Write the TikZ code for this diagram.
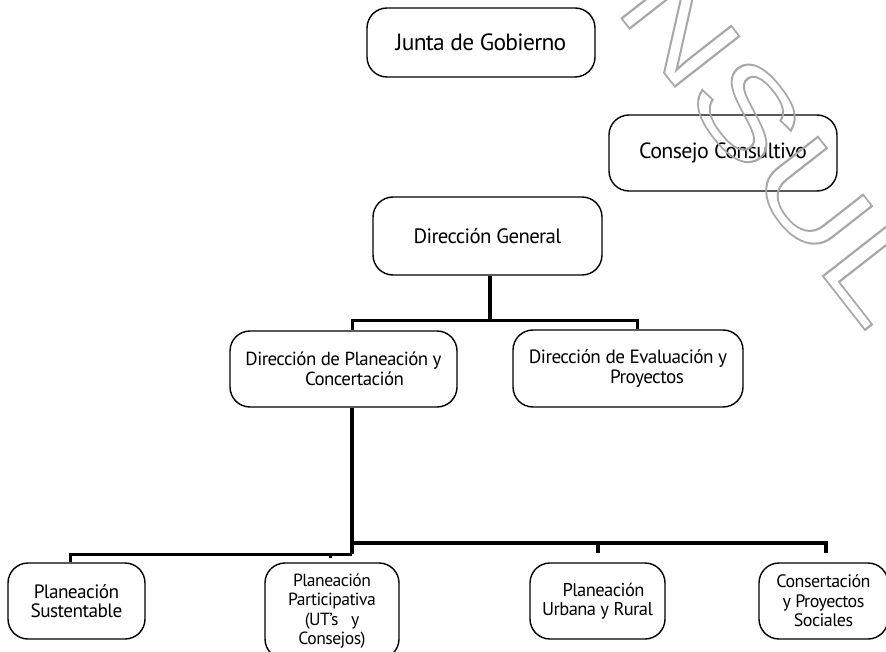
\documentclass[tikz,border=0pt]{standalone}
\usepackage{fontspec}
\setmainfont{PT Sans}[LetterSpace=-3]
\newfontfamily\wmfont{Liberation Sans}
\definecolor{wmgray}{gray}{0.66}
\newcommand{\wmoutline}[1]{\special{pdf:literal direct 1 Tr 1.7 w}#1\special{pdf:literal direct 0 Tr}}
\newcommand{\fs}[1]{\fontsize{#1}{19.5}\selectfont}
\begin{document}
\begin{tikzpicture}[x=1pt,y=-1pt,
  box/.style={draw, line width=1.4pt, rounded corners=20pt, align=center, inner sep=0pt},
  trunk/.style={line width=4pt, line join=miter},
  branch/.style={line width=3pt, line join=miter},
  wm/.style={rotate=-52, inner sep=0pt, text=wmgray, font=\wmfont\fontsize{119}{119}\selectfont}]
\useasboundingbox (0,0) rectangle (886,652);
\begin{scope}
\clip (0,0) rectangle (886,652);
% boxes
\node[box, font=\fs{23.5}, minimum width=228pt, minimum height=69pt] (junta) at (481,42.5) {Junta de Gobierno};
\node[box, font=\fs{22.0}, minimum width=228pt, minimum height=76pt] (consejo) at (723,153) {Consejo Consultivo};
\node[box, font=\fs{20.8}, minimum width=229pt, minimum height=78pt] (dg) at (487.5,236) {Dirección General};
\node[box, font=\fs{18.9}, minimum width=227pt, minimum height=76pt] (dpc) at (343.5,369) {Dirección de Planeación y\\\hspace*{22pt}Concertación};
\node[box, font=\fs{19.2}, minimum width=230pt, minimum height=77pt] (dep) at (628,368.5) {Dirección de Evaluación y\\\hspace*{38pt}Proyectos};
\node[box, font=\fs{19.3}, minimum width=137pt, minimum height=76pt] (sust) at (76.5,601) {Planeación\\Sustentable};
\node[box, font=\fs{17.6}, minimum width=134pt, minimum height=96pt] (part) at (332,611) {Planeación\\Participativa\\(UT’s\ \ \ y\\Consejos)};
\node[box, font=\fs{18.5}, minimum width=135pt, minimum height=76pt] (urb) at (597.5,601) {\hspace*{12pt}Planeación\\Urbana y Rural};
\node[box, font=\fs{18.0}, minimum width=129pt, minimum height=76pt] (cons) at (823.5,601) {Consertación\\y Proyectos\\Sociales};
% connectors top
\coordinate (j1) at (490,320);
\coordinate (j1l) at (352,320);
\coordinate (j1r) at (637,320);
\draw[trunk] (dg.south -| j1) -- (j1);
\draw[branch] (j1l |- dpc.north) -- (j1l) -- (j1r) -- (j1r |- dep.north);
% connectors bottom
\coordinate (l1) at (352,554);
\coordinate (l2) at (70,554);
\coordinate (l3) at (330,554);
\coordinate (l3b) at (330,558);
\coordinate (r0) at (352,543);
\coordinate (r1) at (598,543);
\coordinate (r1b) at (598,553);
\coordinate (r2) at (826,543);
\coordinate (r2b) at (826,553);
\draw[trunk] (dpc.south -| l1) -- (l1);
\draw[branch] (l1) -- (l2) -- (l2 |- sust.north);
\draw[branch] (l3) -- (l3b);
\draw[trunk] (r0) -- (r2) -- (r2b);
\draw[trunk] (r1) -- (r1b);
% watermark
\node[wm, anchor=base east] (wm1) at (815,266)
  {\scalebox{1.3}[1]{\wmoutline{CONSU}}};
\node[wm, anchor=base west] (wm2) at (815,266)
  {\scalebox{1.3}[1]{\wmoutline{L}}};
\end{scope}
\end{tikzpicture}
\end{document}
